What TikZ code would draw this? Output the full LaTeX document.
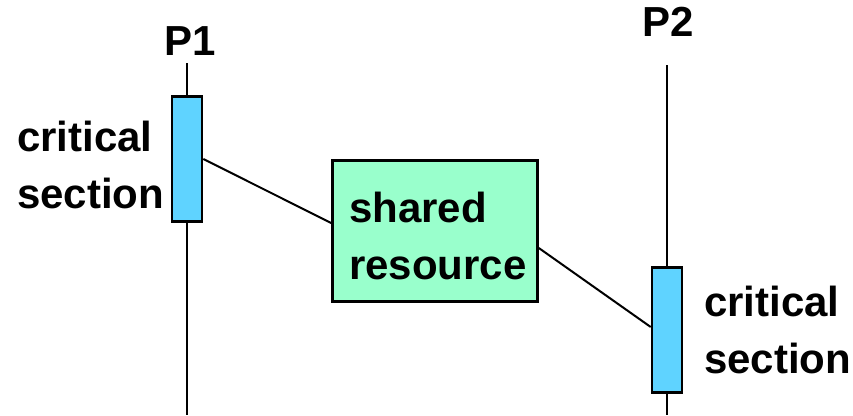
\documentclass[tikz,border=0pt]{standalone}
\usepackage{fontspec}
\setmainfont{Liberation Sans}
\begin{document}
\begin{tikzpicture}[x=1pt,y=-1pt,
  lbl/.style={font=\fontsize{42}{57}\selectfont\bfseries, inner sep=0pt, align=left},
  csbox/.style={draw=black, line width=2.6pt, fill=csblue, minimum width=30pt, minimum height=125pt, inner sep=0pt},
  resbox/.style={draw=black, line width=2.6pt, fill=resgreen, minimum width=205pt, minimum height=141pt, inner sep=0pt, lbl},
  life/.style={line width=2.6pt},
  link/.style={line width=2pt}]
\definecolor{csblue}{HTML}{5FD3FF}
\definecolor{resgreen}{HTML}{99FFCC}
\useasboundingbox (0,0) rectangle (853,415);

% process P1
\node[lbl, anchor=base] (p1) at (190,55) {P1};
\coordinate (p1top) at (187,63);
\coordinate (p1bot) at (187,415);
\node[csbox] (cs1) at (187,159) {};
\draw[life] (p1top) -- (cs1.north);
\draw[life] (cs1.south) -- (p1bot);
\node[lbl, anchor=base west] (cs1txt) at (17,208) {critical\\section};

% process P2
\node[lbl, anchor=base] (p2) at (668,36) {P2};
\coordinate (p2top) at (667,65);
\coordinate (p2bot) at (667,415);
\node[csbox] (cs2) at (667,330) {};
\draw[life] (p2top) -- (cs2.north);
\draw[life] (cs2.south) -- (p2bot);
\node[lbl, anchor=base west] (cs2txt) at (704,373) {critical\\section};

% shared resource
\node[resbox] (res) at (435,231)
  {\hspace*{6pt}\rule{0pt}{40pt}shared\\\hspace*{6pt}resource};

% accesses to the resource
\draw[link] (cs1.east) -- ([yshift=8pt]res.west);
\draw[link] ([yshift=-17pt]res.east) -- ([yshift=3pt]cs2.west);
\end{tikzpicture}
\end{document}
